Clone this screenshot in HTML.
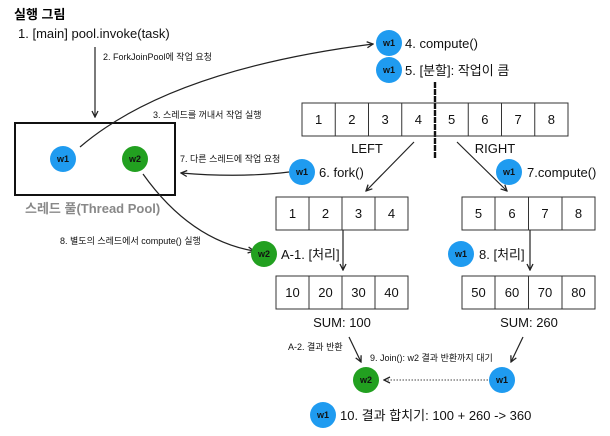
<!DOCTYPE html>
<html><head><meta charset="utf-8"><style>
html,body{margin:0;padding:0;background:#fff;}
svg{display:block;font-family:"Liberation Sans","Noto Sans CJK KR",sans-serif;}
.c{font-size:9px;font-weight:bold;text-anchor:middle;fill:#111;}
.l{font-size:13px;fill:#111;}
.s{font-size:9px;fill:#111;}
.n{font-size:13px;text-anchor:middle;fill:#111;}
</style></head><body>
<svg width="610" height="436" viewBox="0 0 610 436">
<defs><marker id="a" markerWidth="8" markerHeight="8" refX="7" refY="4" orient="auto" markerUnits="userSpaceOnUse"><path d="M1,1 L7,4 L1,7" fill="none" stroke="#222" stroke-width="1.3"/></marker></defs>
<text x="14" y="19" style="font-size:13px;font-weight:bold">실행 그림</text>
<text x="18" y="38" class="l">1. [main] pool.invoke(task)</text>
<line x1="95" y1="47" x2="95" y2="117" stroke="#222" stroke-width="1.2" marker-end="url(#a)"/>
<text x="103" y="60" class="s">2. ForkJoinPool에 작업 요청</text>
<rect x="15" y="123" width="160" height="72" fill="none" stroke="#111" stroke-width="2"/>
<circle cx="63" cy="159" r="13" fill="#1f9bf0"/><text x="63" y="162" class="c">w1</text>
<circle cx="135" cy="159" r="13" fill="#22a020"/><text x="135" y="162" class="c">w2</text>
<text x="25" y="213" style="font-size:13px;fill:#888;font-weight:bold">스레드 풀(Thread Pool)</text>
<path d="M80,147 Q170,70 373,44" fill="none" stroke="#222" stroke-width="1.2" marker-end="url(#a)"/>
<text x="153" y="118" class="s">3. 스레드를 꺼내서 작업 실행</text>
<text x="180" y="162" class="s">7. 다른 스레드에 작업 요청</text>
<path d="M289,172 Q240,178 181,173" fill="none" stroke="#222" stroke-width="1.2" marker-end="url(#a)"/>
<path d="M143,174 Q190,240 254,251" fill="none" stroke="#222" stroke-width="1.2" marker-end="url(#a)"/>
<text x="60" y="244" class="s">8. 별도의 스레드에서 compute() 실행</text>
<circle cx="389" cy="43" r="13" fill="#1f9bf0"/><text x="389" y="46" class="c">w1</text>
<text x="405" y="48" class="l">4. compute()</text>
<circle cx="389" cy="70" r="13" fill="#1f9bf0"/><text x="389" y="73" class="c">w1</text>
<text x="405" y="75" class="l">5. [분할]: 작업이 큼</text>
<line x1="435" y1="82" x2="435" y2="158" stroke="#111" stroke-width="2.4" stroke-dasharray="6,1"/>
<g fill="none" stroke="#333" stroke-width="1">
<rect x="302" y="103" width="266" height="33"/>
<line x1="335.25" y1="103" x2="335.25" y2="136"/><line x1="368.5" y1="103" x2="368.5" y2="136"/><line x1="401.75" y1="103" x2="401.75" y2="136"/><line x1="468.25" y1="103" x2="468.25" y2="136"/><line x1="501.5" y1="103" x2="501.5" y2="136"/><line x1="534.75" y1="103" x2="534.75" y2="136"/>
<rect x="276" y="197" width="132" height="33"/><line x1="309" y1="197" x2="309" y2="230"/><line x1="342" y1="197" x2="342" y2="230"/><line x1="375" y1="197" x2="375" y2="230"/>
<rect x="462" y="197" width="133" height="33"/><line x1="495" y1="197" x2="495" y2="230"/><line x1="528.5" y1="197" x2="528.5" y2="230"/><line x1="562" y1="197" x2="562" y2="230"/>
<rect x="276" y="276" width="132" height="33"/><line x1="309" y1="276" x2="309" y2="309"/><line x1="342" y1="276" x2="342" y2="309"/><line x1="375" y1="276" x2="375" y2="309"/>
<rect x="462" y="276" width="133" height="33"/><line x1="495" y1="276" x2="495" y2="309"/><line x1="528.5" y1="276" x2="528.5" y2="309"/><line x1="562" y1="276" x2="562" y2="309"/>
</g>
<g class="n">
<text x="318.6" y="124" class="n">1</text><text x="351.9" y="124" class="n">2</text><text x="385.1" y="124" class="n">3</text><text x="418.4" y="124" class="n">4</text><text x="451.6" y="124" class="n">5</text><text x="484.9" y="124" class="n">6</text><text x="518.1" y="124" class="n">7</text><text x="551.4" y="124" class="n">8</text>
<text x="292.5" y="218" class="n">1</text><text x="325.5" y="218" class="n">2</text><text x="358.5" y="218" class="n">3</text><text x="391.5" y="218" class="n">4</text>
<text x="478.5" y="218" class="n">5</text><text x="512" y="218" class="n">6</text><text x="545" y="218" class="n">7</text><text x="578.5" y="218" class="n">8</text>
<text x="292.5" y="297" class="n">10</text><text x="325.5" y="297" class="n">20</text><text x="358.5" y="297" class="n">30</text><text x="391.5" y="297" class="n">40</text>
<text x="478.5" y="297" class="n">50</text><text x="512" y="297" class="n">60</text><text x="545" y="297" class="n">70</text><text x="578.5" y="297" class="n">80</text>
</g>
<text x="367" y="153" class="n">LEFT</text><text x="495" y="153" class="n">RIGHT</text>
<line x1="414" y1="142" x2="366" y2="191" stroke="#222" stroke-width="1.2" marker-end="url(#a)"/>
<line x1="457" y1="142" x2="507" y2="191" stroke="#222" stroke-width="1.2" marker-end="url(#a)"/>
<circle cx="302" cy="172" r="13" fill="#1f9bf0"/><text x="302" y="175" class="c">w1</text>
<text x="319" y="177" class="l">6. fork()</text>
<circle cx="509" cy="172" r="13" fill="#1f9bf0"/><text x="509" y="175" class="c">w1</text>
<text x="527" y="177" class="l">7.compute()</text>
<line x1="343" y1="230" x2="343" y2="270" stroke="#222" stroke-width="1.2" marker-end="url(#a)"/>
<line x1="530" y1="230" x2="530" y2="270" stroke="#222" stroke-width="1.2" marker-end="url(#a)"/>
<circle cx="264" cy="254" r="13" fill="#22a020"/><text x="264" y="257" class="c">w2</text>
<text x="281" y="259" class="l">A-1. [처리]</text>
<circle cx="461" cy="254" r="13" fill="#1f9bf0"/><text x="461" y="257" class="c">w1</text>
<text x="479" y="259" class="l">8. [처리]</text>
<text x="342" y="327" class="n">SUM: 100</text><text x="529" y="327" class="n">SUM: 260</text>
<text x="288" y="350" class="s">A-2. 결과 반환</text>
<line x1="349" y1="337" x2="361" y2="362" stroke="#222" stroke-width="1.2" marker-end="url(#a)"/>
<line x1="523" y1="337" x2="511" y2="362" stroke="#222" stroke-width="1.2" marker-end="url(#a)"/>
<text x="370" y="361" class="s">9. Join(): w2 결과 반환까지 대기</text>
<circle cx="366" cy="380" r="13" fill="#22a020"/><text x="366" y="383" class="c">w2</text>
<circle cx="502" cy="380" r="13" fill="#1f9bf0"/><text x="502" y="383" class="c">w1</text>
<line x1="488" y1="380" x2="384" y2="380" stroke="#444" stroke-width="1" stroke-dasharray="1.5,1.5" marker-end="url(#a)"/>
<circle cx="323" cy="415" r="13" fill="#1f9bf0"/><text x="323" y="418" class="c">w1</text>
<text x="340" y="420" class="l">10. 결과 합치기: 100 + 260 -&gt; 360</text>
</svg>
</body></html>
